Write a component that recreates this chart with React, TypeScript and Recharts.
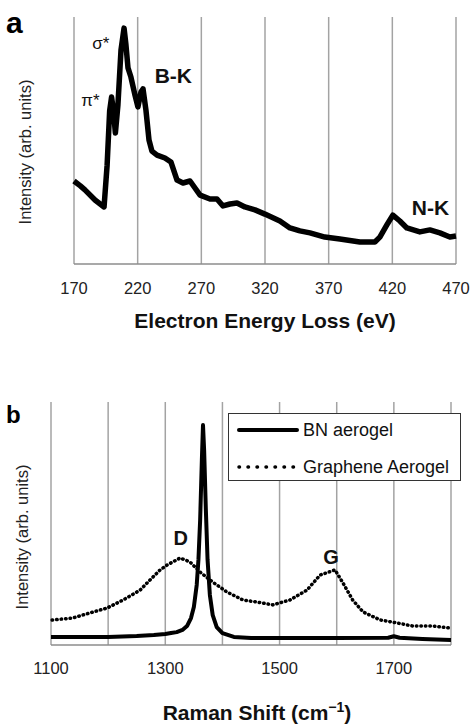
import React from "react";
import {
  LineChart,
  Line,
  XAxis,
  YAxis,
  CartesianGrid,
  ReferenceDot,
  Legend,
} from "recharts";

const FONT = "'Liberation Sans', Arial, sans-serif";

// panel a: EELS spectrum
const eelsTicks = [170, 220, 270, 320, 370, 420, 470];
const eelsEnergy = [
  170, 175, 178.6, 186.5, 193.6, 196, 198, 199.5, 201, 202.5, 204.5, 206.9,
  209.3, 210.8, 212.4, 214.7, 217.9, 220.2, 222.6, 224.2, 226.5, 228.9, 231.2,
  235.2, 241.4, 246.1, 250.9, 255.6, 261.1, 269, 276.8, 282.3, 287, 292.5, 298,
  304.2, 312.1, 319.9, 331.7, 339.6, 347.4, 355.3, 367, 378.8, 394.5, 406.3,
  410.2, 415.7, 420.4, 425.9, 431.4, 441.6, 449.5, 457.3, 465.2, 470,
];
const eelsIntensity = [
  33.6, 31.6, 30.0, 25.9, 23.1, 40, 62, 67.6, 62, 53, 64.4, 86.6, 95.5, 88.7,
  79.4, 75.7, 68.4, 63.6, 69.6, 70.9, 62.3, 50.2, 45.7, 44.1, 42.9, 41.3, 34.0,
  32.8, 33.6, 27.9, 26.3, 26.3, 23.5, 24.3, 24.7, 23.1, 21.9, 20.2, 17.4, 14.6,
  13.4, 12.6, 10.9, 10.1, 8.9, 8.9, 10.9, 15.8, 19.8, 17.4, 14.6, 13.0, 13.8,
  12.6, 10.9, 11.3,
];

// panel b: Raman spectra
const ramanTicks = [1100, 1200, 1300, 1400, 1500, 1600, 1700, 1800];
const ramanLabelTicks = [1100, 1300, 1500, 1700];
const bnShift = [
  1100, 1150, 1200, 1250, 1280, 1300, 1310, 1320, 1330, 1338, 1345, 1350, 1355,
  1358, 1361, 1364, 1366, 1368, 1371, 1374, 1378, 1383, 1390, 1400, 1420, 1450,
  1500, 1600, 1690, 1700, 1710, 1750, 1800,
];
const bnIntensity = [
  3.3, 3.3, 3.3, 3.7, 4.1, 4.5, 4.9, 5.3, 6.2, 7.8, 11.1, 15.6, 24.7, 35, 51.4,
  76, 90.5, 80, 55.6, 35, 20.6, 12.3, 7.4, 4.9, 3.3, 2.9, 2.9, 2.9, 3.0, 3.6,
  3.0, 2.5, 2.1,
];
const grShift = [
  1102, 1138, 1168, 1198, 1226, 1256, 1273, 1291, 1303, 1326, 1343, 1361, 1383,
  1408, 1436, 1460, 1488, 1518, 1548, 1571, 1597, 1611, 1628, 1646, 1676, 1705,
  1733, 1768, 1798,
];
const grIntensity = [
  10.3, 11.1, 13.2, 15.2, 18.5, 22.6, 26.7, 30.9, 32.9, 35.8, 34.2, 30.0, 25.9,
  21.8, 18.5, 17.7, 16.5, 18.5, 22.6, 28.8, 30.9, 25.5, 18.5, 13.6, 10.3, 9.1,
  7.8, 7.8, 7.0,
];

const eelsData = eelsEnergy.map((e, i) => ({ e, v: eelsIntensity[i] }));
const bnData = bnShift.map((s, i) => ({ s, v: bnIntensity[i] }));
const grData = grShift.map((s, i) => ({ s, v: grIntensity[i] }));

const gridColor = "#a3a3a3";
const axisColor = "#8c8c8c";

function RamanTitle(props: any) {
  const { viewBox } = props;
  const x = viewBox.x + viewBox.width / 2 + 6;
  const y = viewBox.y + viewBox.height - 5;
  return (
    <text
      x={x}
      y={y}
      textAnchor="middle"
      fontFamily={FONT}
      fontSize={21}
      fontWeight={700}
      fill="#111"
    >
      Raman Shift (cm
      <tspan dy={-8} fontSize={14}>
        −1
      </tspan>
      <tspan dy={8}>)</tspan>
    </text>
  );
}

function RamanLegend(props: any) {
  const items = props.payload || [];
  return (
    <div
      style={{
        width: 233,
        height: 68,
        boxSizing: "border-box",
        border: "1.5px solid #333",
        background: "#fff",
        fontFamily: FONT,
        fontSize: 18,
        color: "#111",
        position: "relative",
      }}
    >
      {items.map((item: any, i: number) => (
        <div
          key={item.value}
          style={{
            position: "absolute",
            left: 8,
            top: i === 0 ? 6 : 43,
            height: 20,
            display: "flex",
            alignItems: "center",
            whiteSpace: "nowrap",
          }}
        >
          <svg width={62} height={20}>
            <line
              x1={2}
              y1={10}
              x2={60}
              y2={10}
              stroke="#000"
              strokeWidth={i === 0 ? 4 : 3.5}
              strokeLinecap="round"
              strokeDasharray={i === 0 ? undefined : "0.5 8.5"}
            />
          </svg>
          <span style={{ marginLeft: 4 }}>{item.value}</span>
        </div>
      ))}
    </div>
  );
}

const annot = (weight: number, size: number) => ({
  fontFamily: FONT,
  fontSize: size,
  fontWeight: weight,
  fill: "#111",
});

export default function App() {
  return (
    <div
      style={{
        position: "absolute",
        left: 0,
        top: 0,
        width: 471,
        height: 725,
        background: "#fff",
        fontFamily: FONT,
      }}
    >
      <div style={{ position: "absolute", left: 0, top: 0 }}>
        <LineChart
          width={471}
          height={340}
          data={eelsData}
          margin={{ top: 17, right: 15, left: 74, bottom: 0 }}
        >
          <CartesianGrid
            horizontal={false}
            stroke={gridColor}
            strokeWidth={1.5}
          />
          <XAxis
            dataKey="e"
            type="number"
            domain={[170, 470]}
            ticks={eelsTicks}
            height={76}
            tickLine={false}
            tickSize={0}
            tickMargin={18}
            axisLine={{ stroke: axisColor, strokeWidth: 1.5 }}
            tick={{ fontSize: 16.5, fill: "#222", fontFamily: FONT }}
            label={{
              value: "Electron Energy Loss (eV)",
              position: "insideBottom",
              offset: 12,
              style: annot(700, 21),
            }}
          />
          <YAxis hide domain={[0, 100]} />
          <Line
            type="linear"
            dataKey="v"
            stroke="#000"
            strokeWidth={5.5}
            strokeLinejoin="round"
            dot={false}
            isAnimationActive={false}
          />
          <ReferenceDot x={191} y={89.5} r={1} fill="none" stroke="none"
            label={{ value: "σ*", position: "center", style: annot(400, 17) }} />
          <ReferenceDot x={183} y={66.4} r={1} fill="none" stroke="none"
            label={{ value: "π*", position: "center", style: annot(400, 17) }} />
          <ReferenceDot x={248} y={76.5} r={1} fill="none" stroke="none"
            label={{ value: "B-K", position: "center", style: annot(700, 21) }} />
          <ReferenceDot x={450} y={22.7} r={1} fill="none" stroke="none"
            label={{ value: "N-K", position: "center", style: annot(700, 21) }} />
        </LineChart>
      </div>

      <div style={{ position: "absolute", left: 0, top: 360 }}>
        <LineChart
          width={471}
          height={365}
          margin={{ top: 42, right: 20, left: 51, bottom: 0 }}
        >
          <CartesianGrid
            horizontal={false}
            stroke={gridColor}
            strokeWidth={1.5}
          />
          <XAxis
            dataKey="s"
            type="number"
            domain={[1100, 1800]}
            ticks={ramanTicks}
            allowDuplicatedCategory={false}
            height={80}
            tickLine={false}
            tickSize={0}
            tickMargin={17}
            tickFormatter={(v: number) =>
              ramanLabelTicks.includes(v) ? String(v) : ""
            }
            axisLine={{ stroke: axisColor, strokeWidth: 1.5 }}
            tick={{ fontSize: 16.5, fill: "#222", fontFamily: FONT }}
            label={<RamanTitle />}
          />
          <YAxis hide domain={[0, 100]} />
          <Legend
            layout="vertical"
            align="center"
            verticalAlign="middle"
            wrapperStyle={{ left: 228, top: 53, width: 233, height: 68 }}
            content={<RamanLegend />}
          />
          <Line
            data={grData}
            type="linear"
            dataKey="v"
            name="Graphene Aerogel"
            stroke="#000"
            strokeWidth={3.5}
            strokeLinecap="round"
            strokeDasharray="0.5 4"
            dot={false}
            isAnimationActive={false}
          />
          <Line
            data={bnData}
            type="linear"
            dataKey="v"
            name="BN aerogel"
            stroke="#000"
            strokeWidth={4}
            strokeLinejoin="round"
            dot={false}
            isAnimationActive={false}
          />
          <ReferenceDot x={1327} y={44} r={1} fill="none" stroke="none"
            label={{ value: "D", position: "center", style: annot(700, 20) }} />
          <ReferenceDot x={1590} y={36.2} r={1} fill="none" stroke="none"
            label={{ value: "G", position: "center", style: annot(700, 20) }} />
        </LineChart>
      </div>

      <svg
        width={471}
        height={725}
        style={{ position: "absolute", left: 0, top: 0, pointerEvents: "none" }}
      >
        <text x={6} y={33} fontFamily={FONT} fontSize={30} fontWeight={700} fill="#000">
          a
        </text>
        <text x={6} y={423} fontFamily={FONT} fontSize={24} fontWeight={700} fill="#000">
          b
        </text>
        <text
          x={25}
          y={152}
          transform="rotate(-90 25 152)"
          textAnchor="middle"
          dominantBaseline="central"
          fontFamily={FONT}
          fontSize={16.5}
          fill="#222"
        >
          Intensity (arb. units)
        </text>
        <text
          x={22}
          y={537}
          transform="rotate(-90 22 537)"
          textAnchor="middle"
          dominantBaseline="central"
          fontFamily={FONT}
          fontSize={16.5}
          fill="#222"
        >
          Intensity (arb. units)
        </text>
      </svg>
    </div>
  );
}
